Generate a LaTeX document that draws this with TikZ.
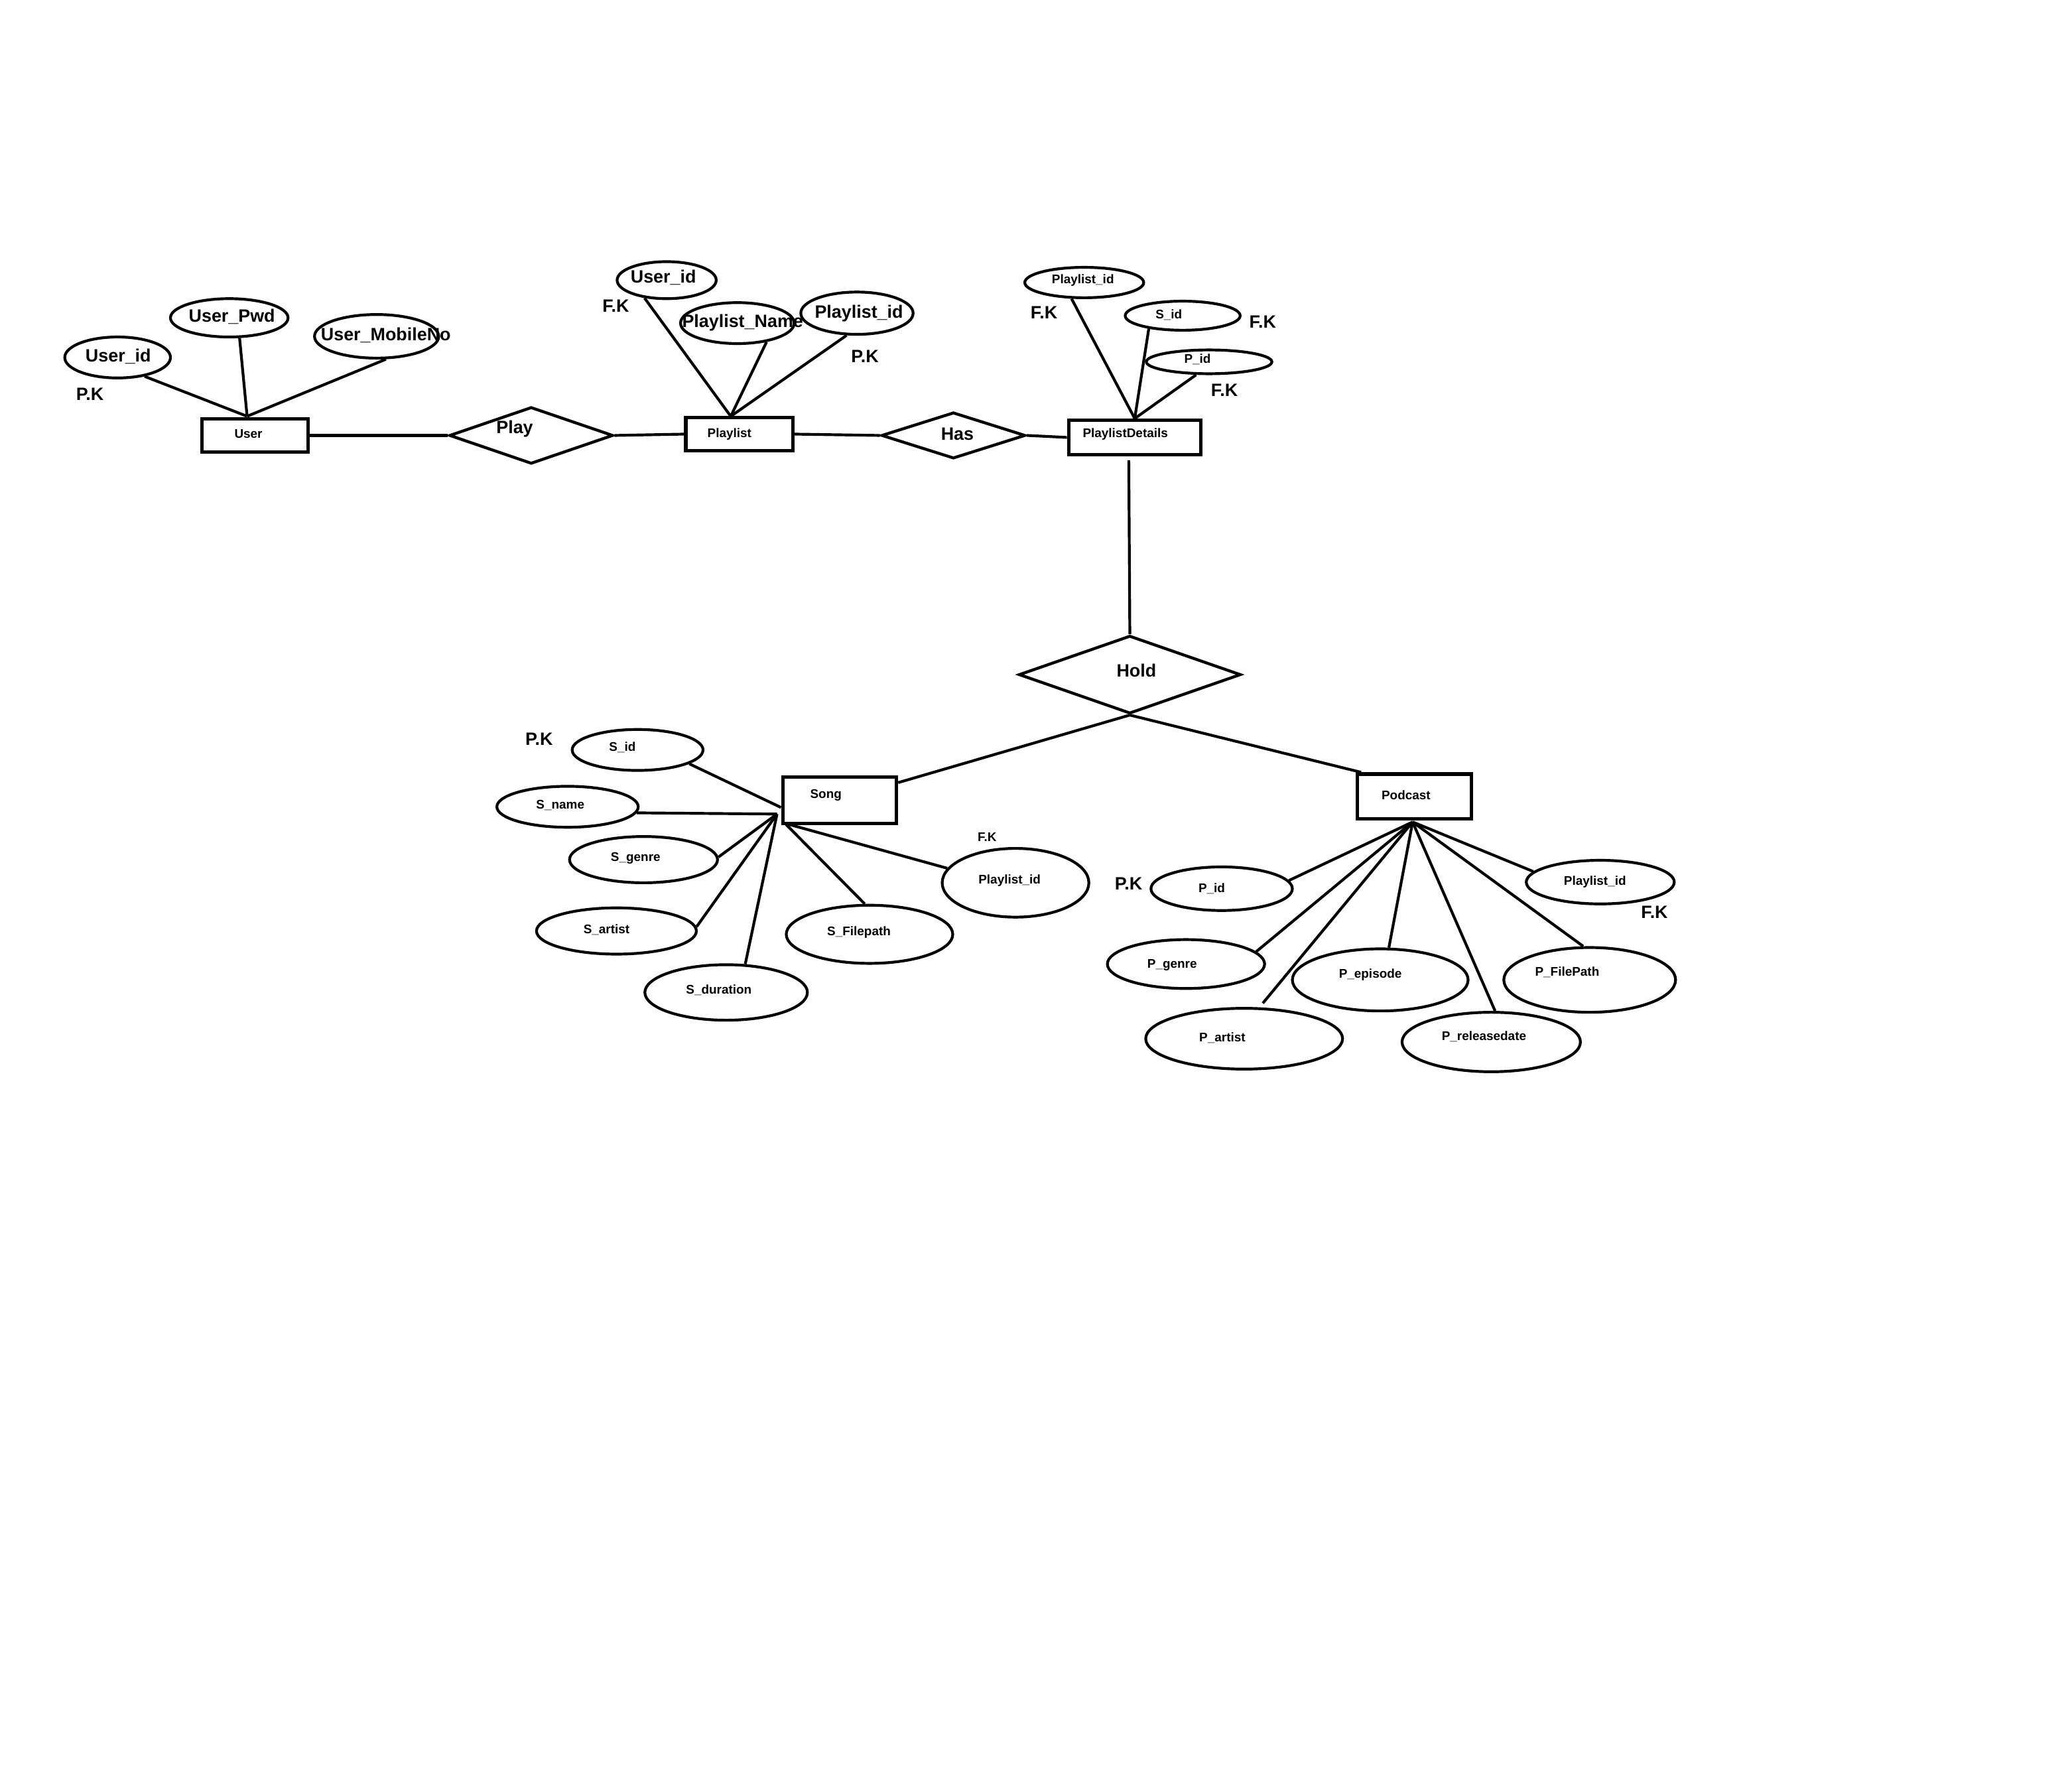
\documentclass[tikz,border=0pt]{standalone}
\usepackage{fontspec}
\setmainfont{Liberation Sans}
\usetikzlibrary{shapes.geometric}
\begin{document}
\begin{tikzpicture}[x=1pt,y=-1pt,
  ent/.style={draw,line width=2.6pt,rectangle,inner sep=0pt},
  rel/.style={draw,line width=2.2pt,diamond,inner sep=0pt},
  attr/.style={draw,line width=2.1pt,ellipse,inner sep=0pt},
  big/.style={font=\fontsize{13.5}{16}\selectfont\bfseries,inner sep=0pt},
  small/.style={font=\fontsize{9.5}{11}\selectfont\bfseries,inner sep=0pt},
  conn/.style={line width=2.1pt}]
\useasboundingbox[fill=white] (0,0) rectangle (1568,1337);

% ---------- entities ----------
\node[ent,minimum width=80,minimum height=25] (user) at (193,329.5) {};
\node[ent,minimum width=81,minimum height=25] (playlist) at (559.5,328.5) {};
\node[ent,minimum width=100,minimum height=26] (pd) at (858.7,331) {};
\node[ent,minimum width=86,minimum height=35] (song) at (635.4,605.5) {};
\node[ent,minimum width=86,minimum height=34] (podcast) at (1070.3,602.7) {};
\node[small] (t-user) at (188,328.5) {User};
\node[small] (t-playlist) at (552,328.5) {Playlist};
\node[small] (t-pd) at (851.6,328.8) {PlaylistDetails};
\node[small] (t-song) at (625,601.5) {Song};
\node[small] (t-podcast) at (1064,601.5) {Podcast};

% ---------- relationships ----------
\node[rel,minimum width=124,minimum height=43] (play) at (402,329.5) {};
\node[rel,minimum width=109,minimum height=35] (has) at (721.5,329.5) {};
\node[rel,minimum width=168,minimum height=59] (hold) at (855,510.5) {};
\node[big] (t-play) at (389.5,324.5) {Play};
\node[big] (t-has) at (724.5,328.5) {Has};
\node[big] (t-hold) at (860,507.5) {Hold};

% ---------- User attributes ----------
\node[attr,minimum width=80,minimum height=31] (uid) at (89,270.5) {};
\node[attr,minimum width=89,minimum height=29] (upwd) at (173.5,240.5) {};
\node[attr,minimum width=94,minimum height=33] (umob) at (285,254.5) {};
\node[big] (t-uid) at (89.5,269.5) {User\_id};
\node[big] (t-upwd) at (175.5,239.5) {User\_Pwd};
\node[big] (t-umob) at (292,253.5) {User\_MobileNo};
\node[big] (t-upk) at (68,298.5) {P.K};
\coordinate (uhub) at (187,315);
\draw[conn] (uid.-35) -- (uhub);
\draw[conn] (upwd.-63) -- (uhub);
\draw[conn] (umob.-68) -- (uhub);

% ---------- Playlist attributes ----------
\node[attr,minimum width=75,minimum height=28] (pluid) at (504.5,212) {};
\node[attr,minimum width=86,minimum height=31] (plname) at (558,244.5) {};
\node[attr,minimum width=85,minimum height=32] (plid) at (648.5,237) {};
\node[big] (t-pluid) at (502,210) {User\_id};
\node[big] (t-plname) at (562,244) {Playlist\_Name};
\node[big] (t-plid) at (650,237) {Playlist\_id};
\node[big] (t-plfk) at (466,231.5) {F.K};
\node[big] (t-plpk) at (654.5,269.5) {P.K};
\coordinate (plhub) at (553,315);
\draw[conn] (pluid.-141) -- (plhub);
\draw[conn] (plname.-33) -- (plhub);
\draw[conn] (plid.-115) -- (plhub);

% ---------- PlaylistDetails attributes ----------
\node[attr,minimum width=90,minimum height=23] (pdplid) at (820.5,213.8) {};
\node[attr,minimum width=87,minimum height=22] (pdsid) at (895,238.9) {};
\node[attr,minimum width=95,minimum height=18] (pdpid) at (915,273.8) {};
\node[small] (t-pdplid) at (819.5,212.2) {Playlist\_id};
\node[small] (t-pdsid) at (884.5,238.2) {S\_id};
\node[small] (t-pdpid) at (906.2,271.8) {P\_id};
\node[big] (t-pdfk1) at (790,236.5) {F.K};
\node[big] (t-pdfk2) at (955.6,243.5) {F.K};
\node[big] (t-pdfk3) at (926.6,295.5) {F.K};
\draw[conn] (pdplid.-128) -- (pd.north);
\draw[conn] (pdsid.-159) -- (pd.north);
\draw[conn] (pdpid.-135) -- (pd.north);

% ---------- main connectors ----------
\draw[conn] (user.east) -- (play.west);
\draw[conn] (play.east) -- (playlist.west);
\draw[conn] (playlist.east) -- (has.west);
\draw[conn] (has.east) -- (pd.west);
\draw[conn] ([xshift=-4.5pt,yshift=-3pt]pd.south) -- (hold.north);
\draw[conn] (hold.south) -- ([yshift=-5.5pt]song.north east);
\draw[conn] (hold.south) -- ([xshift=4pt]podcast.north west);

% ---------- Song attributes ----------
\node[attr,minimum width=99,minimum height=31] (ssid) at (482.5,567.5) {};
\node[attr,minimum width=107,minimum height=31] (sname) at (429.5,610.5) {};
\node[attr,minimum width=112,minimum height=35] (sgenre) at (487,650.5) {};
\node[attr,minimum width=121,minimum height=35] (sartist) at (466.5,704.5) {};
\node[attr,minimum width=123,minimum height=42] (sdur) at (549.5,751) {};
\node[attr,minimum width=126,minimum height=44] (sfile) at (658,707) {};
\node[attr,minimum width=111,minimum height=52] (splid) at (768.5,668) {};
\node[small] (t-ssid) at (471,565.5) {S\_id};
\node[small] (t-sname) at (424,609.5) {S\_name};
\node[small] (t-sgenre) at (481,649.5) {S\_genre};
\node[small] (t-sartist) at (459,703.5) {S\_artist};
\node[small] (t-sdur) at (544,749.5) {S\_duration};
\node[small] (t-sfile) at (650,705.5) {S\_Filepath};
\node[small] (t-splid) at (764,666.5) {Playlist\_id};
\node[small] (t-sfk) at (747,633.5) {F.K};
\node[big] (t-spk) at (408,559.5) {P.K};
\coordinate (sh1) at (591,611);
\coordinate (sh2) at (588,616);
\coordinate (sh3) at (594,623);
\draw[conn] (ssid.-15) -- (sh1);
\draw[conn] (sname.-5) -- (sh2);
\draw[conn] (sgenre.2) -- (sh2);
\draw[conn] (sartist.3) -- (sh2);
\draw[conn] (sdur.56) -- (sh2);
\draw[conn] (sfile.99) -- (sh3);
\draw[conn] (splid.168) -- (sh3);

% ---------- Podcast attributes ----------
\node[attr,minimum width=107,minimum height=33] (ppid) at (924.5,672.5) {};
\node[attr,minimum width=112,minimum height=33] (pplid) at (1211,667.5) {};
\node[attr,minimum width=119,minimum height=37] (pgenre) at (897.5,729.5) {};
\node[attr,minimum width=133,minimum height=47] (pepi) at (1044.5,741.5) {};
\node[attr,minimum width=130,minimum height=49] (pfile) at (1203,741.5) {};
\node[attr,minimum width=149,minimum height=46] (partist) at (941.5,786) {};
\node[attr,minimum width=135,minimum height=45] (prel) at (1128.5,788.5) {};
\node[small] (t-ppid) at (917,672.5) {P\_id};
\node[small] (t-pplid) at (1207,667.5) {Playlist\_id};
\node[small] (t-pgenre) at (887,730.5) {P\_genre};
\node[small] (t-pepi) at (1037,737.5) {P\_episode};
\node[small] (t-pfile) at (1186,735.5) {P\_FilePath};
\node[small] (t-partist) at (925,785.5) {P\_artist};
\node[small] (t-prel) at (1123,784.5) {P\_releasedate};
\node[big] (t-ppk) at (854,668.5) {P.K};
\node[big] (t-pfk) at (1252,690.5) {F.K};
\coordinate (phub) at (1069,622);
\draw[conn] (ppid.7) -- (phub);
\draw[conn] (pgenre.10) -- (phub);
\draw[conn,shorten <=4pt] (partist.64) -- (phub);
\draw[conn] (pepi.75) -- (phub);
\draw[conn] (prel.83) -- (phub);
\draw[conn] (pfile.101) -- (phub);
\draw[conn] (pplid.171) -- (phub);
\end{tikzpicture}
\end{document}
